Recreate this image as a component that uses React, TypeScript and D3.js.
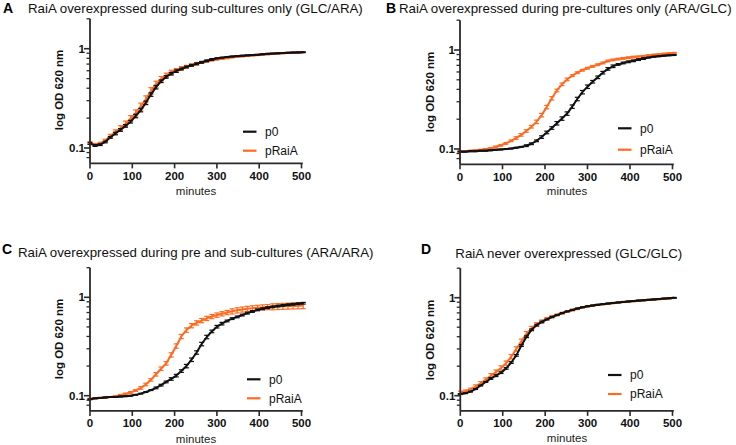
import React from 'react';
import * as d3 from 'd3';

// time points (minutes)
const minutes = [0,12,24,36,48,60,72,84,96,108,120,132,144,156,168,180,192,204,216,228,240,252,264,276,288,300,312,324,336,348,360,372,384,396,408,420,432,444,456,468,480,492,504];

const seriesNames = ['p0', 'pRaiA'];
const xTicks = [0, 100, 200, 300, 400, 500];
const yMajor = [0.1, 1];
const yMajorLabels = ['0.1', '1'];
const yMinor = [0.08, 0.09, 0.2, 0.3, 0.4, 0.5, 0.6, 0.7, 0.8, 0.9, 2];

// Panel A (GLC/ARA)
const aP0 = [0.111,0.106,0.108,0.115,0.128,0.140,0.152,0.167,0.184,0.210,0.241,0.285,0.345,0.410,0.470,0.520,0.560,0.595,0.625,0.655,0.680,0.705,0.730,0.755,0.780,0.800,0.813,0.825,0.835,0.843,0.850,0.857,0.864,0.870,0.880,0.887,0.893,0.899,0.905,0.910,0.914,0.918,0.922];
const aRai = [0.113,0.108,0.111,0.119,0.132,0.145,0.158,0.176,0.198,0.226,0.262,0.310,0.375,0.440,0.495,0.540,0.578,0.608,0.635,0.660,0.683,0.705,0.727,0.748,0.767,0.783,0.796,0.808,0.818,0.828,0.837,0.846,0.854,0.862,0.870,0.878,0.886,0.893,0.900,0.906,0.912,0.917,0.922];
const aP0Sd = [2,2,2,2,2,3,3,3,3,4,4,4,4,4,3,3,3,3,2,2,2,2,2,2,2,1,1,1,1,1,1,1,1,1,1,1,1,1,1,1,1,1,1];
const aRaiSd = [3,3,3,3,4,5,6,6,7,7,8,8,8,7,6,5,5,4,4,3,3,3,2,2,2,2,2,2,1,1,1,1,1,1,1,1,1,1,1,1,1,1,1];

// Panel B (ARA/GLC)
const bP0 = [0.094,0.094,0.095,0.095,0.096,0.096,0.097,0.098,0.099,0.100,0.101,0.103,0.105,0.108,0.113,0.121,0.132,0.147,0.163,0.182,0.203,0.228,0.268,0.320,0.375,0.426,0.478,0.530,0.590,0.645,0.685,0.715,0.740,0.760,0.778,0.800,0.820,0.840,0.855,0.866,0.876,0.884,0.890];
const bRai = [0.095,0.095,0.096,0.097,0.098,0.100,0.102,0.105,0.109,0.114,0.121,0.129,0.139,0.152,0.168,0.188,0.220,0.265,0.325,0.390,0.450,0.505,0.550,0.590,0.625,0.655,0.683,0.710,0.740,0.775,0.795,0.810,0.823,0.836,0.848,0.860,0.872,0.884,0.896,0.906,0.916,0.926,0.935];
const bP0Sd = [1,1,1,1,1,1,1,1,1,1,1,1,1,2,2,2,3,3,3,4,4,4,4,4,4,4,3,3,3,3,3,2,2,2,2,2,2,1,1,1,1,1,1];
const bRaiSd = [1,1,1,1,1,1,1,2,2,2,2,3,3,3,3,4,4,4,4,3,3,3,2,2,2,2,2,2,2,2,2,2,2,2,2,1,1,1,1,1,1,1,1];

// Panel C (ARA/ARA)
const cP0 = [0.092,0.094,0.095,0.096,0.097,0.097,0.098,0.099,0.100,0.102,0.105,0.109,0.114,0.120,0.128,0.138,0.148,0.160,0.178,0.200,0.232,0.275,0.335,0.395,0.450,0.503,0.540,0.575,0.607,0.632,0.660,0.690,0.718,0.745,0.765,0.785,0.800,0.815,0.828,0.840,0.851,0.861,0.870];
const cRai = [0.093,0.094,0.095,0.096,0.097,0.099,0.101,0.104,0.108,0.113,0.120,0.130,0.145,0.165,0.188,0.213,0.260,0.320,0.400,0.465,0.515,0.550,0.580,0.610,0.638,0.660,0.680,0.700,0.720,0.738,0.752,0.764,0.774,0.783,0.790,0.796,0.802,0.807,0.811,0.815,0.818,0.821,0.824];
const cP0Sd = [1,1,1,1,1,1,1,1,1,1,1,1,1,2,2,2,3,3,3,4,4,4,4,4,3,3,3,2,2,2,2,2,2,2,2,2,2,2,2,2,2,2,2];
const cRaiSd = [1,1,1,1,1,1,2,2,2,2,3,3,3,4,4,4,5,5,5,5,5,5,5,5,5,5,5,5,6,6,6,6,6,6,6,6,7,7,7,7,7,7,7];

// Panel D (GLC/GLC)
const dP0 = [0.104,0.106,0.110,0.117,0.127,0.138,0.150,0.160,0.172,0.190,0.218,0.258,0.325,0.400,0.470,0.525,0.565,0.600,0.635,0.665,0.697,0.725,0.750,0.775,0.800,0.818,0.833,0.847,0.860,0.872,0.884,0.895,0.906,0.916,0.925,0.934,0.943,0.952,0.961,0.970,0.979,0.988,0.997];
const dRai = [0.108,0.111,0.116,0.124,0.134,0.146,0.160,0.174,0.192,0.215,0.250,0.300,0.360,0.430,0.490,0.535,0.575,0.610,0.640,0.668,0.695,0.722,0.748,0.772,0.795,0.815,0.830,0.844,0.857,0.869,0.880,0.891,0.902,0.912,0.921,0.930,0.939,0.948,0.957,0.966,0.975,0.984,0.993];
const dP0Sd = [1,1,1,1,1,1,2,2,2,2,2,2,2,2,2,2,2,1,1,1,1,1,1,1,1,1,1,1,1,1,1,1,1,1,1,1,1,1,1,1,1,1,1];
const dRaiSd = [3,3,3,4,4,4,5,5,5,5,5,5,5,5,4,4,3,3,3,2,2,2,2,2,1,1,1,1,1,1,1,1,1,1,1,1,1,1,1,1,1,1,1];

const titles = [
  'RaiA overexpressed during sub-cultures only (GLC/ARA)',
  'RaiA overexpressed during pre-cultures only (ARA/GLC)',
  'RaiA overexpressed during pre and sub-cultures (ARA/ARA)',
  'RaiA never overexpressed (GLC/GLC)',
];
const letters = ['A', 'B', 'C', 'D'];

const BLACK = '#111111';
const ORANGE = '#FF6A21';
const AXIS = '#2a2a2a';
const FONT = '"Liberation Sans", Arial, Helvetica, sans-serif';

type Layout = {
  ax: number; x500: number; y1: number; y01: number;
  letterX: number; letterY: number; titleX: number; titleY: number;
  ylabX: number; ylabY: number; xlabX: number; xlabY: number;
  legX: number; legY1: number; legY2: number;
};

const layouts: Layout[] = [
  { ax: 90, x500: 301.5, y1: 48.7, y01: 148, letterX: 3, letterY: 12.7, titleX: 28, titleY: 12.7, ylabX: 59, ylabY: 90, xlabX: 196, xlabY: 195, legX: 243, legY1: 131.7, legY2: 150.7 },
  { ax: 460, x500: 672.5, y1: 50, y01: 149, letterX: 386, letterY: 12.7, titleX: 399, titleY: 12.7, ylabX: 430, ylabY: 92, xlabX: 567, xlabY: 195, legX: 618, legY1: 128.3, legY2: 149.7 },
  { ax: 90, x500: 301.5, y1: 297.3, y01: 395.7, letterX: 2, letterY: 254.3, titleX: 18, titleY: 256.7, ylabX: 59, ylabY: 339, xlabX: 196, xlabY: 442.5, legX: 247, legY1: 379.3, legY2: 398.3 },
  { ax: 460.3, x500: 672.5, y1: 297.7, y01: 395.7, letterX: 421, letterY: 253.5, titleX: 455.3, titleY: 258, ylabX: 430, ylabY: 340, xlabX: 567, xlabY: 442, legX: 608, legY1: 375, legY2: 394 },
];

const panelData = [
  { p0: aP0, rai: aRai, p0Sd: aP0Sd, raiSd: aRaiSd },
  { p0: bP0, rai: bRai, p0Sd: bP0Sd, raiSd: bRaiSd },
  { p0: cP0, rai: cRai, p0Sd: cP0Sd, raiSd: cRaiSd },
  { p0: dP0, rai: dRai, p0Sd: dP0Sd, raiSd: dRaiSd },
];

function Series({ values, sd, color, x, y }: any) {
  const line = d3.line<number>().x((_, i) => x(minutes[i])).y((v) => y(v));
  return (
    <g>
      {values.map((v: number, i: number) => {
        const cx = x(minutes[i]);
        const lo = y(v * (1 - sd[i] / 100));
        const hi = y(v * (1 + sd[i] / 100));
        return (
          <g key={i} stroke={color} strokeWidth={1.2}>
            <line x1={cx} x2={cx} y1={lo} y2={hi} />
            <line x1={cx - 2.5} x2={cx + 2.5} y1={lo} y2={lo} />
            <line x1={cx - 2.5} x2={cx + 2.5} y1={hi} y2={hi} />
          </g>
        );
      })}
      <path d={line(values) || ''} fill="none" stroke={color} strokeWidth={2} strokeLinejoin="round" />
    </g>
  );
}

function Panel({ idx }: { idx: number }) {
  const L = layouts[idx];
  const D = panelData[idx];
  const x = d3.scaleLinear().domain([0, 500]).range([L.ax, L.x500]);
  const y = d3.scaleLog().domain([0.1, 1]).range([L.y01, L.y1]);
  const yTop = y(2);
  const yBot = y(0.07);
  return (
    <g fontFamily={FONT}>
      <text x={L.letterX} y={L.letterY} fontSize={14} fontWeight="bold" fill="#000">{letters[idx]}</text>
      <text x={L.titleX} y={L.titleY} fontSize={13.3} fill="#111">{titles[idx]}</text>

      <Series values={D.rai} sd={D.raiSd} color={ORANGE} x={x} y={y} />
      <Series values={D.p0} sd={D.p0Sd} color={BLACK} x={x} y={y} />

      {/* axes */}
      <line x1={L.ax} x2={L.ax} y1={yTop} y2={yBot} stroke={AXIS} strokeWidth={1.8} />
      <line x1={L.ax} x2={x(503)} y1={yBot} y2={yBot} stroke={AXIS} strokeWidth={1.8} />
      {yMinor.map((v) => (
        <line key={'m' + v} x1={L.ax - 3.5} x2={L.ax} y1={y(v)} y2={y(v)} stroke={AXIS} strokeWidth={1.3} />
      ))}
      {yMajor.map((v, i) => (
        <g key={'M' + v}>
          <line x1={L.ax - 6} x2={L.ax} y1={y(v)} y2={y(v)} stroke={AXIS} strokeWidth={1.6} />
          <text x={L.ax - 5} y={y(v) + 4} textAnchor="end" fontSize={11.5} fontWeight="bold" fill="#111">{yMajorLabels[i]}</text>
        </g>
      ))}
      {xTicks.map((t) => (
        <g key={'x' + t}>
          <line x1={x(t)} x2={x(t)} y1={yBot} y2={yBot + 5} stroke={AXIS} strokeWidth={1.6} />
          <text x={x(t)} y={yBot + 16.5} textAnchor="middle" fontSize={11.5} fontWeight="bold" fill="#111">{t}</text>
        </g>
      ))}
      <text x={L.xlabX} y={L.xlabY} textAnchor="middle" fontSize={11.5} fill="#222">minutes</text>
      <text transform={`translate(${L.ylabX + 4},${L.ylabY}) rotate(-90)`} textAnchor="middle" fontSize={11.5} fontWeight="bold" fill="#111">log OD 620 nm</text>

      {/* legend */}
      <line x1={L.legX} x2={L.legX + 13.5} y1={L.legY1} y2={L.legY1} stroke={BLACK} strokeWidth={2.2} />
      <text x={L.legX + 22} y={L.legY1 + 4.3} fontSize={12} fill="#111">{seriesNames[0]}</text>
      <line x1={L.legX} x2={L.legX + 13.5} y1={L.legY2} y2={L.legY2} stroke={ORANGE} strokeWidth={2.2} />
      <text x={L.legX + 22} y={L.legY2 + 4.3} fontSize={12} fill="#111">{seriesNames[1]}</text>
    </g>
  );
}

export default function App() {
  return (
    <svg width={736} height={445} style={{ position: 'absolute', left: 0, top: 0, background: '#fff' }}>
      <rect width={736} height={445} fill="#fff" />
      {[0, 1, 2, 3].map((i) => <Panel key={i} idx={i} />)}
    </svg>
  );
}
